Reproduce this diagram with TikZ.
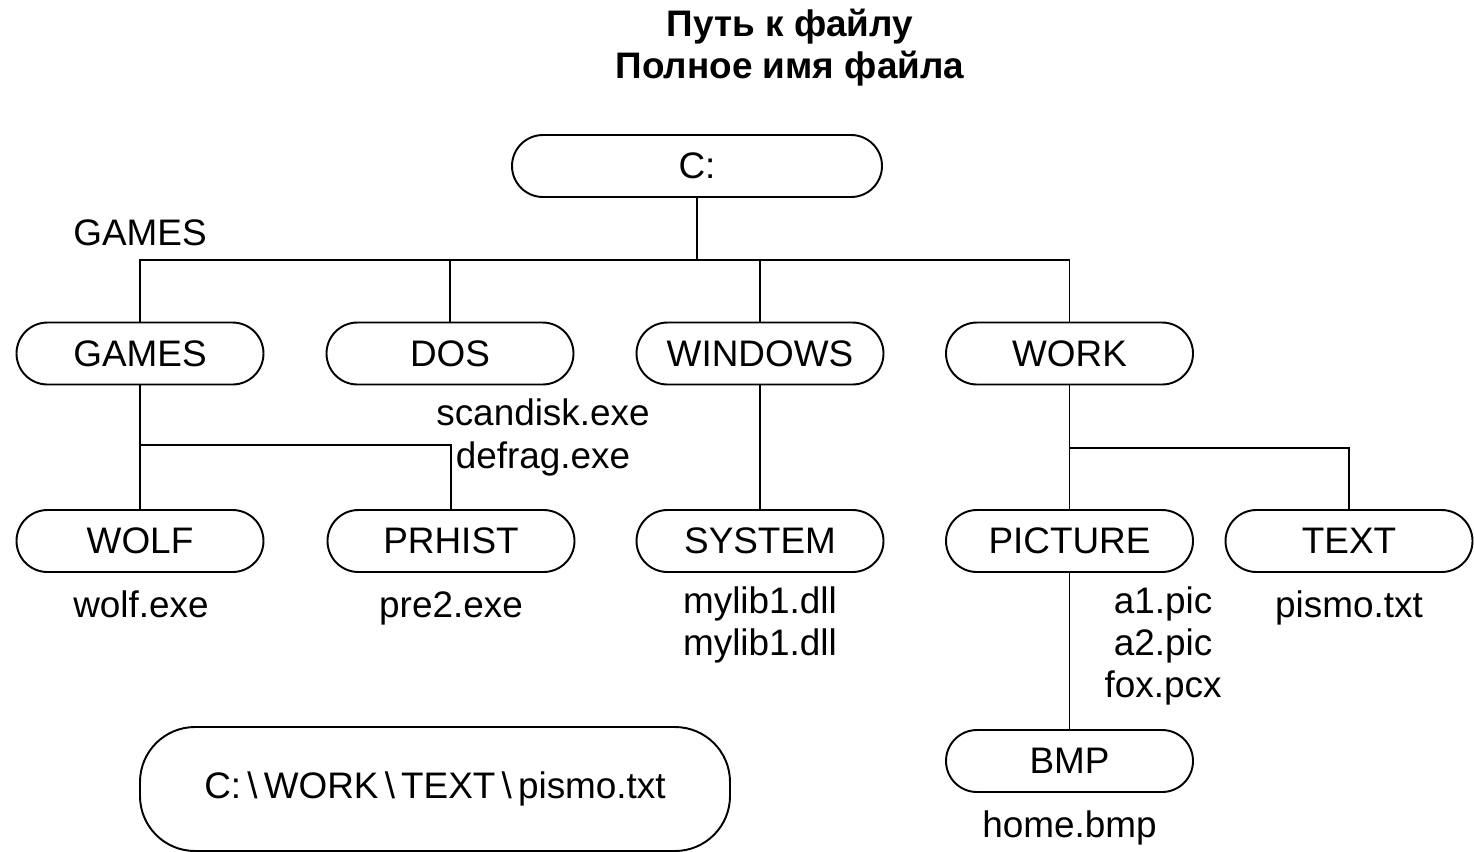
\documentclass[tikz,border=0pt]{standalone}
\usepackage{fontspec}
\setmainfont{Liberation Sans}

\tikzset{
  folder/.style={draw, rounded corners=0.62cm, minimum width=4.94cm, minimum height=1.24cm, inner sep=0pt, font=\fontsize{21}{25}\selectfont},
  file/.style={anchor=base, inner sep=0pt, font=\fontsize{21}{25}\selectfont},
  heading/.style={anchor=base, inner sep=0pt, font=\fontsize{21}{25}\selectfont\bfseries}
}
\newcommand{\sepslash}{\kern3.5pt\textbackslash\kern3.5pt}

\begin{document}
\begin{tikzpicture}[line width=1.1pt]
\useasboundingbox (0,0) rectangle (29.48,-17.02);

\node[heading] (pathTitle) at (15.8,-0.72) {Путь к файлу};
\node[heading] (nameTitle) at (15.8,-1.56) {Полное имя файла};

\node[folder, minimum width=7.4cm] (C) at (13.94,-3.32) {C:};
\node[file] (gamesLabel) at (2.8,-4.9) {GAMES};

\node[folder] (GAMES) at (2.8,-7.07) {GAMES};
\node[folder] (DOS) at (9.0,-7.07) {DOS};
\node[folder] (WINDOWS) at (15.2,-7.07) {WINDOWS};
\node[folder] (WORK) at (21.39,-7.07) {WORK};

\coordinate (Bus) at (13.94,-5.2);
\draw (C) -- (Bus);
\draw (GAMES) |- (Bus) -| (WORK);
\draw (DOS) -- (DOS |- Bus);
\draw (WINDOWS) -- (WINDOWS |- Bus);

\node[file] (scandisk) at (10.86,-8.5) {scandisk.exe};
\node[file] (defrag) at (10.86,-9.36) {defrag.exe};

\node[folder] (WOLF) at (2.8,-10.82) {WOLF};
\node[folder] (PRHIST) at (9.02,-10.82) {PRHIST};
\node[folder] (SYSTEM) at (15.2,-10.82) {SYSTEM};
\node[folder] (PICTURE) at (21.39,-10.82) {PICTURE};
\node[folder] (TEXT) at (26.98,-10.82) {TEXT};

\coordinate (GamesFork) at (2.8,-8.9);
\draw (GAMES) -- (WOLF);
\draw (GamesFork) -| (PRHIST);
\draw (WINDOWS) -- (SYSTEM);
\coordinate (WorkFork) at (21.39,-8.96);
\draw (WORK) -- (PICTURE);
\draw (WorkFork) -| (TEXT);

\node[file] (wolfExe) at (2.82,-12.34) {wolf.exe};
\node[file] (pre2Exe) at (9.02,-12.34) {pre2.exe};
\node[file] (mylibA) at (15.2,-12.26) {mylib1.dll};
\node[file] (mylibB) at (15.2,-13.1) {mylib1.dll};
\node[file] (a1Pic) at (23.26,-12.26) {a1.pic};
\node[file] (a2Pic) at (23.26,-13.1) {a2.pic};
\node[file] (foxPcx) at (23.26,-13.94) {fox.pcx};
\node[file] (pismoTxt) at (26.98,-12.34) {pismo.txt};

\node[folder] (BMP) at (21.39,-15.22) {BMP};
\draw (PICTURE) -- (BMP);
\node[file] (homeBmp) at (21.39,-16.74) {home.bmp};

\node[folder, minimum width=11.8cm, minimum height=2.48cm, rounded corners=1.1cm] (Path) at (8.7,-15.78) {C:\sepslash WORK\sepslash TEXT\sepslash pismo.txt};

\end{tikzpicture}
\end{document}
